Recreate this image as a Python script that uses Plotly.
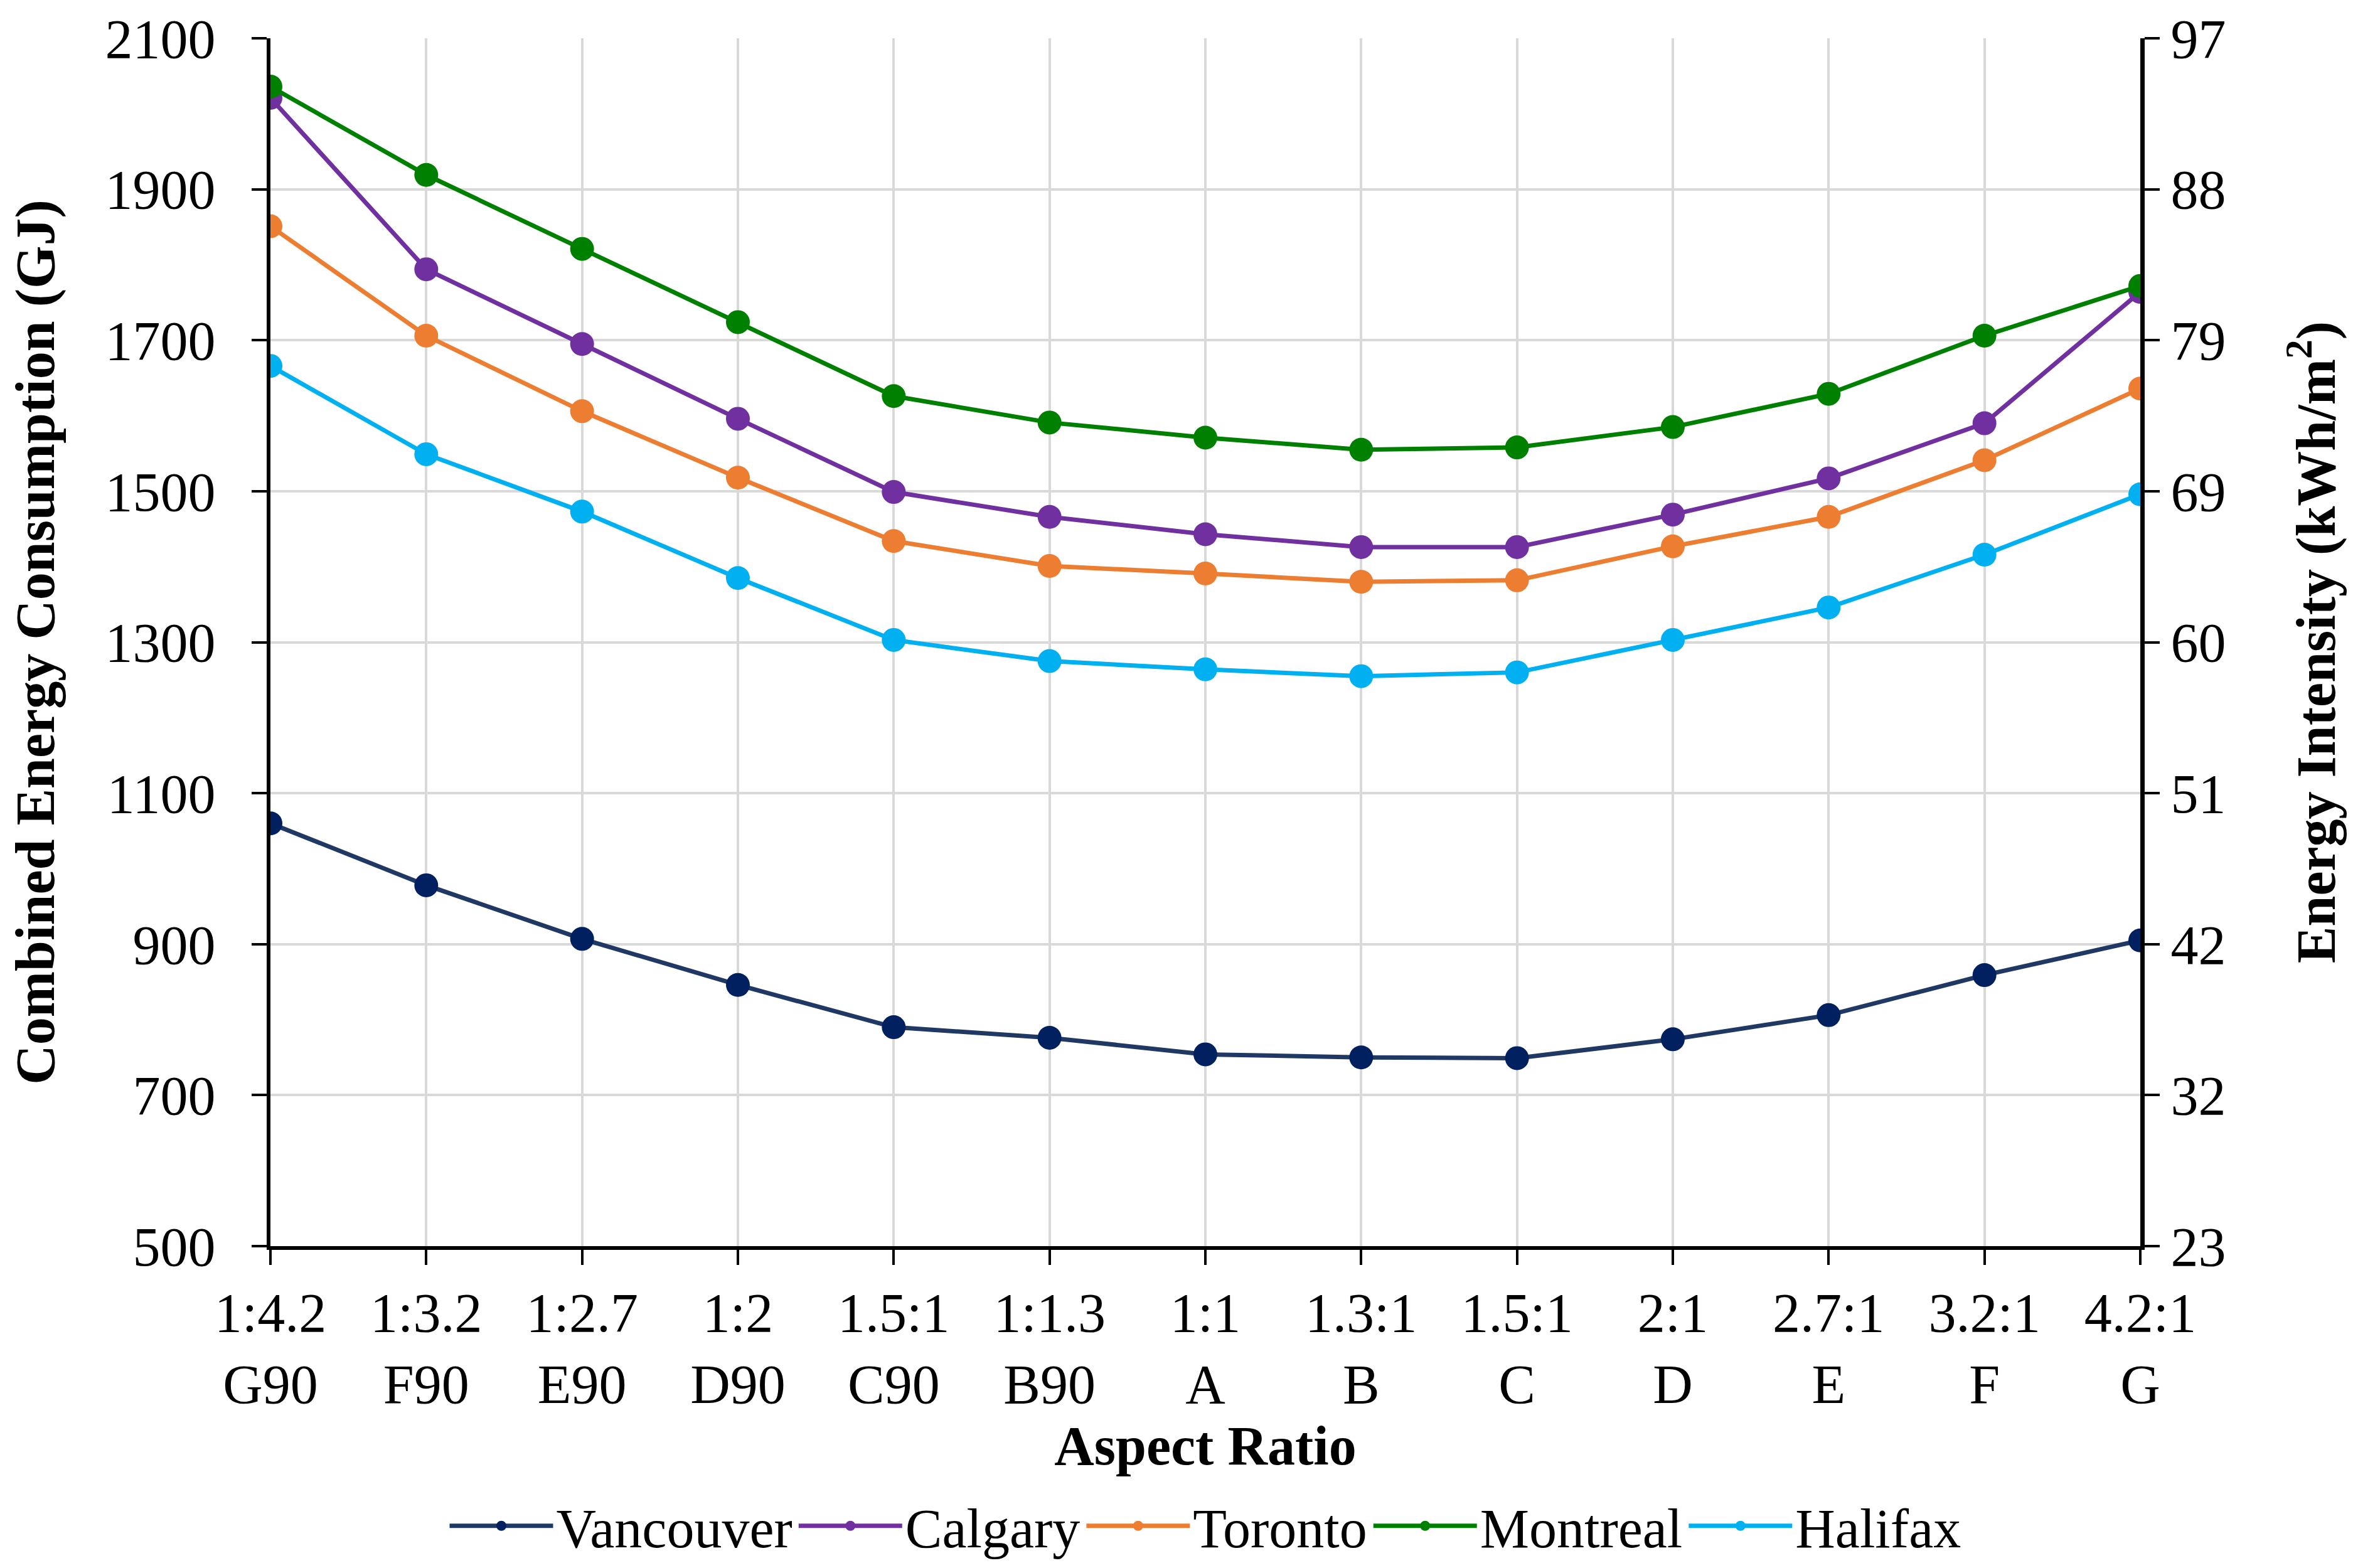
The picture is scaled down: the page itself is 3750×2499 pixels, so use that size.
import plotly.graph_objects as go

# categories (aspect ratio / orientation)
aspect_ratio = ["1:4.2", "1:3.2", "1:2.7", "1:2", "1.5:1", "1:1.3", "1:1",
                "1.3:1", "1.5:1", "2:1", "2.7:1", "3.2:1", "4.2:1"]
case_label = ["G90", "F90", "E90", "D90", "C90", "B90", "A",
              "B", "C", "D", "E", "F", "G"]

# combined energy consumption (GJ)
vancouver = [1060, 978, 907, 846, 790, 776, 754, 750, 749, 774, 806, 859, 905]
calgary = [2021, 1794, 1695, 1596, 1499, 1466, 1443, 1426, 1426, 1469, 1517, 1590, 1764]
toronto = [1851, 1706, 1606, 1518, 1434, 1401, 1391, 1380, 1382, 1427, 1466, 1541, 1636]
montreal = [2036, 1919, 1821, 1724, 1626, 1591, 1571, 1555, 1558, 1585, 1629, 1706, 1772]
halifax = [1666, 1549, 1473, 1385, 1303, 1275, 1264, 1255, 1260, 1303, 1346, 1416, 1496]

left_ticks = [500, 700, 900, 1100, 1300, 1500, 1700, 1900, 2100]
right_tick_labels = ["23", "32", "42", "51", "60", "69", "79", "88", "97"]
GJ_TO_KWH_M2 = 0.0462  # secondary axis scale factor

series = [
    ("Vancouver", vancouver, "#203864", "#002060"),
    ("Calgary", calgary, "#7030A0", "#7030A0"),
    ("Toronto", toronto, "#ED7D31", "#ED7D31"),
    ("Montreal", montreal, "#008000", "#008000"),
    ("Halifax", halifax, "#00B0F0", "#00B0F0"),
]

x_labels = [f"{a}<br>{c}" for a, c in zip(aspect_ratio, case_label)]

FONT = "Liberation Serif, Times New Roman, serif"
FS = 88

fig = go.Figure()
for name, vals, line_col, mark_col in series:
    fig.add_trace(go.Scatter(
        x=x_labels, y=vals,
        mode="lines+markers",
        name=name,
        line=dict(color=line_col, width=7),
        marker=dict(color=mark_col, size=38),
    ))

# invisible trace so the secondary (kWh/m2) axis gets drawn
fig.add_trace(go.Scatter(
    x=x_labels, y=[v * GJ_TO_KWH_M2 for v in vancouver],
    yaxis="y2", mode="markers", marker=dict(opacity=0),
    showlegend=False, hoverinfo="skip",
))

axis_common = dict(
    showline=True, linecolor="black",
    ticks="outside", ticklen=24, tickwidth=4, tickcolor="black",
    tickfont=dict(size=FS),
)

fig.update_layout(
    width=3750, height=2499,
    paper_bgcolor="white", plot_bgcolor="white",
    font=dict(family=FONT, size=FS, color="black"),
    margin=dict(l=423, r=347, t=53, b=521, autoexpand=False),
    showlegend=True,
    legend=dict(
        orientation="h", x=0.5, xanchor="center",
        yref="container", y=0.03, yanchor="middle",
        bgcolor="rgba(0,0,0,0)",
        font=dict(size=FS), itemwidth=165,
    ),
    xaxis=dict(
        type="category", range=[0, 12],
        showgrid=True, gridcolor="#D9D9D9", gridwidth=4,
        linewidth=6, **axis_common,
        title=dict(text="<b>Aspect Ratio</b>", font=dict(size=FS), standoff=20),
    ),
    yaxis=dict(
        range=[500, 2100], tickvals=left_ticks,
        showgrid=True, gridcolor="#D9D9D9", gridwidth=4,
        zeroline=False, linewidth=6, ticklabelstandoff=40, **axis_common,
        title=dict(text="<b>Combined Energy Consumption (GJ)</b>", font=dict(size=FS), standoff=60),
    ),
    yaxis2=dict(
        overlaying="y", side="right",
        range=[500 * GJ_TO_KWH_M2, 2100 * GJ_TO_KWH_M2],
        tickvals=[v * GJ_TO_KWH_M2 for v in left_ticks],
        ticktext=right_tick_labels,
        showgrid=False, zeroline=False, linewidth=7, **axis_common,
        title=dict(text="<b>Energy Intensity (kWh/m<sup>2</sup>)</b>", font=dict(size=FS), standoff=115),
    ),
)

fig.write_html("out.html")
